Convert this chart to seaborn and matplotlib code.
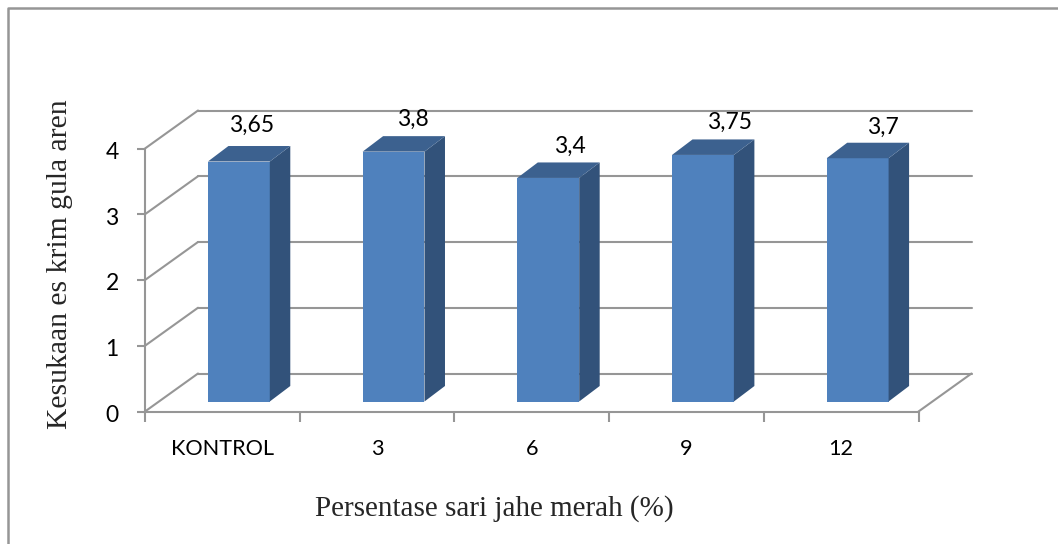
import matplotlib
matplotlib.use("Agg")
import matplotlib.pyplot as plt
import seaborn as sns
import pandas as pd
from matplotlib.patches import Polygon
from matplotlib.lines import Line2D
from matplotlib.transforms import ScaledTranslation

categories = ["KONTROL", "3", "6", "9", "12"]
values = [3.65, 3.8, 3.4, 3.75, 3.7]
value_labels = ["3,65", "3,8", "3,4", "3,75", "3,7"]
y_ticks = [0, 1, 2, 3, 4]
x_title = "Persentase sari jahe merah (%)"
y_title = "Kesukaan es krim gula aren"

W, H = 1058, 544
DPI = 100
sns.set_theme(style="white")
plt.rcParams["font.family"] = ["Lato", "DejaVu Sans"]

GRAY = "#969696"
FRONT = "#4f81bd"
SIDE = "#32527a"
TOP = "#3c618f"

fig = plt.figure(figsize=(W / DPI, H / DPI), dpi=DPI)
L, R, T, B = 145, 918.5, 148.5, 411.5
ax = fig.add_axes([L / W, 1 - B / H, (R - L) / W, (B - T) / H])
df = pd.DataFrame({"cat": categories, "val": values})
sns.barplot(data=df, x="cat", y="val", color=FRONT, saturation=1, width=0.4, ax=ax, zorder=5)
ax.set_xlim(-0.5, len(categories) - 0.5)
ax.set_ylim(0, 4)
ax.set_xlabel("")
ax.set_ylabel("")


def px(dx, dy):
    return ScaledTranslation(dx / DPI, dy / DPI, fig.dpi_scale_trans)


# depth of the chart box (floor/wall) and of the bars, in pixels
WALL = (53, 38)
BAR_OFF = (16.5, 10)
BAR_D = (20.5, 15.5)

base = ax.transData
wall_tr = base + px(*WALL)
for t in y_ticks:
    ax.add_line(Line2D([-0.5, 4.5], [t, t], transform=wall_tr, color=GRAY, lw=1.5, clip_on=False, zorder=1))
    x0, y0 = base.transform((-0.5, t))
    ax.add_line(Line2D([x0, x0 + WALL[0]], [y0, y0 + WALL[1]], transform=None, color=GRAY, lw=1.5,
                       clip_on=False, zorder=1))
x0, y0 = base.transform((4.5, 0))
ax.add_line(Line2D([x0, x0 + WALL[0]], [y0, y0 + WALL[1]], transform=None, color=GRAY, lw=1.5,
                   clip_on=False, zorder=1))

# extrude every bar drawn by seaborn
bars = list(ax.patches)
off = px(*BAR_OFF)
label_nudge_x = [13, 19, 22, 27, 25]
label_nudge_y = [36, 32, 32, 33, 31]
for patch, lab, nx, ny in zip(bars, value_labels, label_nudge_x, label_nudge_y):
    patch.set_transform(base + off)
    patch.set_edgecolor("none")
    x = patch.get_x()
    w = patch.get_width()
    h = patch.get_height()
    (xa, ya), (xb, yb) = (base + off).transform([(x, 0), (x + w, h)])
    dx, dy = BAR_D
    ax.add_patch(Polygon([(xb, ya), (xb + dx, ya + dy), (xb + dx, yb + dy), (xb, yb)], closed=True,
                         transform=None, facecolor=SIDE, edgecolor="none", zorder=6, clip_on=False))
    ax.add_patch(Polygon([(xa, yb), (xb, yb), (xb + dx, yb + dy), (xa + dx, yb + dy)], closed=True,
                         transform=None, facecolor=TOP, edgecolor="none", zorder=6, clip_on=False))
    ax.annotate(lab, xy=(x + w / 2, h), xycoords="data", xytext=(BAR_OFF[0] + nx, BAR_OFF[1] + ny),
                textcoords="offset pixels", ha="center", va="center", fontsize=16.5, color="black", zorder=8)

for s in ["top", "right"]:
    ax.spines[s].set_visible(False)
for s in ["left", "bottom"]:
    ax.spines[s].set_color(GRAY)
    ax.spines[s].set_linewidth(1.5)
    ax.spines[s].set_zorder(2)
ax.set_yticks(y_ticks)
ax.set_yticklabels([str(t) for t in y_ticks], fontsize=16.5, color="black")
ax.set_xticks([i - 0.5 for i in range(len(categories) + 1)], minor=True)
ax.set_xticks(range(len(categories)))
ax.set_xticklabels(categories, fontsize=15.6, color="black")
ax.tick_params(axis="x", which="major", length=0, pad=19.5)
ax.tick_params(axis="x", which="minor", length=7, width=1.5, color=GRAY, bottom=True)
ax.tick_params(axis="y", length=6, width=1.5, color=GRAY, pad=5, left=True)
for lbl in ax.get_yticklabels():
    lbl.set_transform(lbl.get_transform() + px(-11, -2))
ax.patch.set_alpha(0)

fig.text(494 / W, 1 - 509 / H, x_title, family="Liberation Serif", fontsize=21, ha="center", va="center")
fig.text(60 / W, 1 - 264 / H, y_title, family="Liberation Serif", fontsize=21.3, rotation=90, ha="center", va="center")

# outer chart frame
fig.add_artist(Line2D([7.5 / W, 7.5 / W, 1], [0, 1 - 7.5 / H, 1 - 7.5 / H], color=GRAY, lw=1.8))

fig.savefig("out.png", dpi=DPI, facecolor="white")
